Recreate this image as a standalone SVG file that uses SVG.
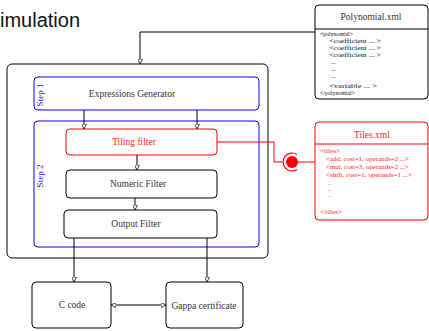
<svg xmlns="http://www.w3.org/2000/svg" width="429" height="331" viewBox="0 0 429 331">
<style>
.box{fill:#fff;stroke:#000;stroke-width:1}
.blue{fill:none;stroke:#00f;stroke-width:1}
.red{fill:#fff;stroke:#f00;stroke-width:1}
text{font-family:'Liberation Serif','Times New Roman','DejaVu Serif',serif}
.t{font-size:9.5px;text-anchor:middle;fill:#333}
.tr{font-size:9.5px;text-anchor:middle;fill:#f22}
.sb{font-size:9px;text-anchor:middle;fill:#22f}
.small{font-size:6px;fill:#111}
.smallr{font-size:6px;fill:#f22}
.dotr{font-size:5px;fill:#f22}
.c{fill:none;stroke:#000;stroke-width:1}
.cr{fill:none;stroke:#f00;stroke-width:1}
.title{font-family:'Liberation Sans',Arial,sans-serif;font-size:20px;fill:#111}
</style>
<defs>
<marker id="ah" viewBox="0 0 10 10" refX="10" refY="5" markerWidth="5" markerHeight="5" orient="auto-start-reverse" markerUnits="userSpaceOnUse">
<path d="M0,0 L10,5 L0,10 z" fill="#fff" stroke="#000" stroke-width="1.5"/>
</marker>
</defs>
<text class="title" x="0" y="27">imulation</text>

<g id="main">
<rect x="7" y="64" width="261" height="194" rx="5" class="box"/>
</g>
<g id="step1">
<rect x="34" y="77" width="225" height="33" rx="4" class="blue"/>
<text class="sb" transform="translate(43,95) rotate(-90)">Step 1</text>
<text class="t" x="132" y="97">Expressions Generator</text>
</g>
<g id="step2">
<rect x="34" y="121" width="225" height="126" rx="4" class="blue"/>
<text class="sb" transform="translate(43,176) rotate(-90)">Step 2</text>
</g>
<g id="tiling">
<rect x="66" y="129" width="151" height="26" rx="4" class="red"/>
<text class="tr" x="134" y="145">Tiling filter</text>
</g>
<g id="numeric">
<rect x="66" y="170" width="151" height="28" rx="4" class="box"/>
<text class="t" x="138" y="187">Numeric Filter</text>
</g>
<g id="output">
<rect x="64" y="210" width="153" height="28" rx="4" class="box"/>
<text class="t" x="136" y="227">Output Filter</text>
</g>
<g id="ccode">
<rect x="32" y="282" width="79" height="46" rx="4" class="box"/>
<text class="t" x="72" y="308">C code</text>
</g>
<g id="gappa">
<rect x="166" y="282" width="77" height="46" rx="4" class="box"/>
<text class="t" x="204" y="309">Gappa certificate</text>
</g>
<g id="polynomial">
<rect x="315" y="5" width="113" height="94" rx="4" class="box"/>
<line x1="315" y1="29" x2="428" y2="29" stroke="#000" stroke-width="1"/>
<text class="t" x="371" y="20">Polynomial.xml</text>
<text class="small" x="320" y="36" textLength="33" lengthAdjust="spacingAndGlyphs">&lt;polynomial&gt;</text>
<text class="small" x="329" y="43" textLength="52" lengthAdjust="spacingAndGlyphs">&lt;coefficient  ... &gt;</text>
<text class="small" x="329" y="50" textLength="52" lengthAdjust="spacingAndGlyphs">&lt;coefficient  ... &gt;</text>
<text class="small" x="329" y="57" textLength="52" lengthAdjust="spacingAndGlyphs">&lt;coefficient  ... &gt;</text>
<text class="small" x="331" y="64">...</text>
<text class="small" x="331" y="71">...</text>
<text class="small" x="331" y="78">...</text>
<text class="small" x="329" y="88" textLength="48" lengthAdjust="spacingAndGlyphs">&lt;variable  ... &gt;</text>
<text class="small" x="320" y="95" textLength="35" lengthAdjust="spacingAndGlyphs">&lt;/polynomial&gt;</text>
</g>
<g id="tiles">
<rect x="315" y="122" width="113" height="98" rx="4" class="red"/>
<line x1="315" y1="144" x2="428" y2="144" stroke="#f00" stroke-width="1"/>
<text class="tr" x="372" y="138">Tiles.xml</text>
<text class="smallr" x="320" y="153" textLength="20" lengthAdjust="spacingAndGlyphs">&lt;tiles&gt;</text>
<text class="smallr" x="326" y="161" textLength="83" lengthAdjust="spacingAndGlyphs">&lt;add, cost=1, operands=2 ...&gt;</text>
<text class="smallr" x="326" y="169" textLength="83" lengthAdjust="spacingAndGlyphs">&lt;mul, cost=3, operands=2 ...&gt;</text>
<text class="smallr" x="326" y="177" textLength="86" lengthAdjust="spacingAndGlyphs">&lt;shift, cost=1, operands=1 ...&gt;</text>
<text class="dotr" x="328" y="185">...</text>
<text class="dotr" x="328" y="191">...</text>
<text class="dotr" x="328" y="197">...</text>
<text class="smallr" x="320" y="214" textLength="22" lengthAdjust="spacingAndGlyphs">&lt;/tiles&gt;</text>
</g>
<g id="connectors">
<polyline points="315,32 140,32 140,64" class="c" marker-end="url(#ah)"/>
<line x1="84" y1="110" x2="84" y2="129" class="c" marker-end="url(#ah)"/>
<line x1="197" y1="110" x2="197" y2="129" class="c" marker-end="url(#ah)"/>
<line x1="137" y1="155" x2="137" y2="170" class="c" marker-end="url(#ah)"/>
<line x1="135" y1="198" x2="135" y2="210" class="c" marker-end="url(#ah)"/>
<line x1="74" y1="238" x2="74" y2="282" class="c" marker-end="url(#ah)"/>
<line x1="207" y1="238" x2="207" y2="282" class="c" marker-end="url(#ah)"/>
<line x1="111" y1="305" x2="166" y2="305" class="c" marker-start="url(#ah)" marker-end="url(#ah)"/>
<polyline points="217,142 274,142 274,162 282,162" class="cr"/>
<line x1="298" y1="162" x2="315" y2="162" class="cr"/>
<path d="M297,154.5 A9,9 0 1 0 297,169.5" fill="none" stroke="#f00" stroke-width="1.2"/>
<circle cx="292" cy="162" r="6" fill="#f00"/>
</g>
</svg>
